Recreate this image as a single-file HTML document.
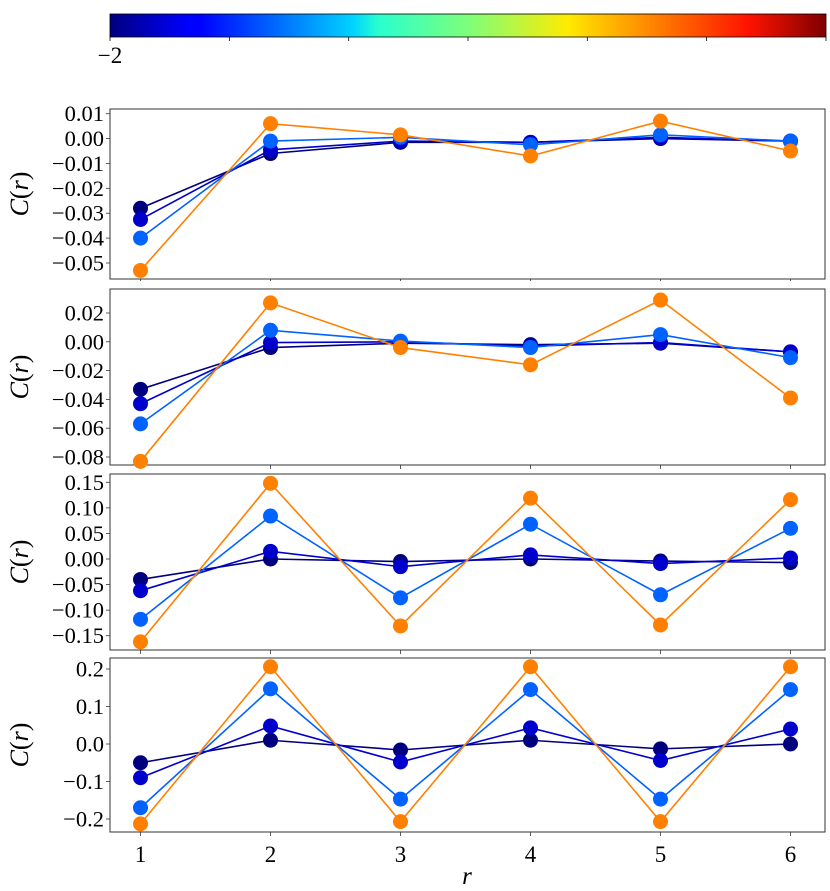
<!DOCTYPE html>
<html><head><meta charset="utf-8"><style>
html,body{margin:0;padding:0;background:#fff;}
svg{display:block;font-family:"Liberation Serif",serif;}
</style></head><body>
<svg id="chart" width="830" height="891" viewBox="0 0 830 891" xmlns="http://www.w3.org/2000/svg">
<defs>
<linearGradient id="jet" x1="0" x2="1" y1="0" y2="0">
<stop offset="0" stop-color="#00007f"/><stop offset="0.11" stop-color="#0000ff"/>
<stop offset="0.125" stop-color="#0000ff"/><stop offset="0.34" stop-color="#00d4ff"/>
<stop offset="0.375" stop-color="#29ffce"/><stop offset="0.5" stop-color="#7dff7a"/>
<stop offset="0.64" stop-color="#ffeb00"/><stop offset="0.66" stop-color="#ffd700"/>
<stop offset="0.89" stop-color="#ff1300"/><stop offset="1" stop-color="#7f0000"/>
</linearGradient>
</defs>
<g>
<rect x="110" y="14" width="716" height="23" fill="url(#jet)" stroke="#000" stroke-width="0.8"/>
<g id="cbticks"></g>
<text x="110" y="63" font-size="23" text-anchor="middle">−2</text>
</g>
<g id="panels"></g>
<text x="467" y="884" font-size="25" font-style="italic" text-anchor="middle">r</text>
</svg>
<script>
const xCategories = [1,2,3,4,5,6];
const seriesColors = ["#00007f","#0000cd","#0062ff","#ff8000"];
const p1Navy = [-0.028,-0.006,-0.0015,-0.0015,0.0,-0.001];
const p1DarkBlue = [-0.0325,-0.0045,-0.001,-0.0015,0.0005,-0.001];
const p1Blue = [-0.040,-0.001,0.0005,-0.0025,0.0015,-0.001];
const p1Orange = [-0.053,0.006,0.0015,-0.007,0.007,-0.005];
const p2Navy = [-0.033,-0.004,-0.001,-0.002,-0.001,-0.007];
const p2DarkBlue = [-0.043,-0.0005,0.0,-0.003,-0.0005,-0.007];
const p2Blue = [-0.057,0.008,0.0005,-0.004,0.005,-0.011];
const p2Orange = [-0.083,0.027,-0.004,-0.016,0.029,-0.039];
const p3Navy = [-0.040,0.0,-0.005,0.0,-0.004,-0.007];
const p3DarkBlue = [-0.062,0.015,-0.015,0.008,-0.009,0.002];
const p3Blue = [-0.118,0.084,-0.076,0.068,-0.070,0.060];
const p3Orange = [-0.162,0.148,-0.131,0.119,-0.129,0.116];
const p4Navy = [-0.050,0.010,-0.016,0.010,-0.013,0.0];
const p4DarkBlue = [-0.090,0.048,-0.048,0.043,-0.044,0.040];
const p4Blue = [-0.170,0.147,-0.147,0.145,-0.147,0.145];
const p4Orange = [-0.213,0.206,-0.207,0.206,-0.207,0.206];
const p1Ticks = ["0.01","0.00","−0.01","−0.02","−0.03","−0.04","−0.05"];
const p2Ticks = ["0.02","0.00","−0.02","−0.04","−0.06","−0.08"];
const p3Ticks = ["0.15","0.10","0.05","0.00","−0.05","−0.10","−0.15"];
const p4Ticks = ["0.2","0.1","0.0","−0.1","−0.2"];
const p1TickVals = [0.01,0,-0.01,-0.02,-0.03,-0.04,-0.05];
const p2TickVals = [0.02,0,-0.02,-0.04,-0.06,-0.08];
const p3TickVals = [0.15,0.10,0.05,0,-0.05,-0.10,-0.15];
const p4TickVals = [0.2,0.1,0,-0.1,-0.2];

const NS="http://www.w3.org/2000/svg";
function mk(tag,attrs,parent){const e=document.createElementNS(NS,tag);for(const k in attrs)e.setAttribute(k,attrs[k]);parent.appendChild(e);return e;}
const cb=document.getElementById('cbticks');
for(let i=0;i<7;i++){const x=110+i*716/6;const t=mk('line',{x1:x,x2:x,y1:37,y2:41,stroke:'#000','stroke-width':0.8},cb);

}
const X0=110,X1=825;
const xScale=v=>140.5+(v-1)*130;
const panels=[
 {top:109,bottom:279,t1:0.01,y1:113.7,t2:-0.05,y2:263,series:[p1Navy,p1DarkBlue,p1Blue,p1Orange],ticks:p1Ticks,vals:p1TickVals,xl:false,tl:2},
 {top:289,bottom:465,t1:0.02,y1:313,t2:-0.08,y2:457,series:[p2Navy,p2DarkBlue,p2Blue,p2Orange],ticks:p2Ticks,vals:p2TickVals,xl:false,tl:4},
 {top:474,bottom:650,t1:0.15,y1:482.3,t2:-0.15,y2:635.7,series:[p3Navy,p3DarkBlue,p3Blue,p3Orange],ticks:p3Ticks,vals:p3TickVals,xl:false,tl:4},
 {top:658,bottom:832,t1:0.2,y1:669,t2:-0.2,y2:819,series:[p4Navy,p4DarkBlue,p4Blue,p4Orange],ticks:p4Ticks,vals:p4TickVals,xl:true,tl:4}
];
const root=document.getElementById('panels');
panels.forEach((p,pi)=>{
 const g=mk('g',{},root);
 
 
 const yScale=v=>p.y1+(v-p.t1)*(p.y2-p.y1)/(p.t2-p.t1);
 const fr=mk('rect',{x:X0,y:p.top,width:X1-X0,height:p.bottom-p.top,fill:'none',stroke:'#333','stroke-width':1},g);
 
 
 p.vals.forEach((v,i)=>{const y=yScale(v);
  const tk=mk('line',{x1:X0-4,x2:X0,y1:y,y2:y,stroke:'#333','stroke-width':0.8},g);
  
  
  const tl=mk('text',{x:X0-6,y:y+7.5,'font-size':22.5,'text-anchor':'end'},g);tl.textContent=p.ticks[i];
  
  
 });
 xCategories.forEach(c=>{const x=xScale(c);
  const tk=mk('line',{x1:x,x2:x,y1:p.bottom,y2:p.bottom+p.tl,stroke:'#333','stroke-width':0.8},g);
  
  
  if(p.xl){const tl=mk('text',{x:x,y:p.bottom+30,'font-size':23,'text-anchor':'middle'},g);tl.textContent=c;
   
   }
 });
 const yl=mk('text',{x:0,y:0,'font-size':26,'text-anchor':'middle',transform:`translate(28,${(p.top+p.bottom)/2}) rotate(-90)`},g);
 yl.innerHTML='<tspan font-style="italic">C</tspan>(<tspan font-style="italic">r</tspan>)';
 
 
 p.series.forEach((s,si)=>{
  const col=seriesColors[si];
  const sg=mk('g',{},g);
  
  
  const pts=s.map((v,i)=>xScale(xCategories[i])+','+yScale(v)).join(' ');
  const pl=mk('polyline',{points:pts,fill:'none',stroke:col,'stroke-width':1.6},sg);
  
  
  s.forEach((v,i)=>{const c=mk('circle',{cx:xScale(xCategories[i]),cy:yScale(v),r:7.5,fill:col},sg);
   
   });
 });
});
</script>
</body></html>
